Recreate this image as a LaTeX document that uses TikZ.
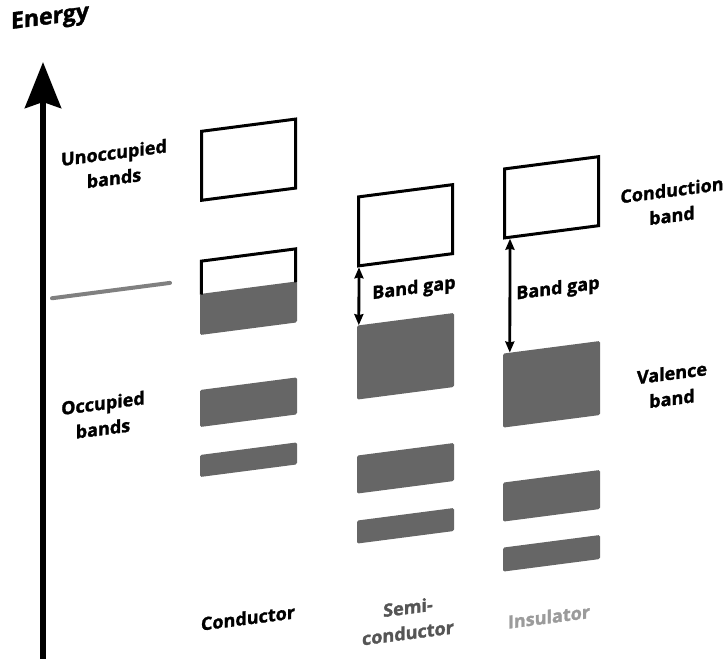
\documentclass[tikz,border=0pt]{standalone}
\usepackage{fontspec}
\setmainfont{Open Sans}[BoldFeatures={FakeBold=1.5}]
\usetikzlibrary{arrows.meta}

\definecolor{bandgray}{RGB}{102,102,102}
\definecolor{fermigray}{RGB}{128,128,128}
\definecolor{semigray}{RGB}{85,85,85}
\definecolor{insugray}{RGB}{155,155,155}

\begin{document}
\begin{tikzpicture}[
  x=1pt, y=-1pt,
  >=Stealth,
  band box/.style={
    draw,
    line width=3pt,
    minimum width=94pt,
    inner sep=0pt,
    transform shape
  },
  filled band/.style={
    fill=bandgray,
    rounded corners=1.5pt,
    minimum width=97pt,
    inner sep=0pt,
    transform shape
  },
  gap arrow/.style={
    <->,
    line width=2.8pt,
    >={Stealth[length=11pt, width=9pt, inset=1pt]}
  },
  label/.style={
    align=center,
    inner sep=0pt,
    font=\bfseries\fontsize{18}{25.5}\selectfont,
    transform shape
  }
]

\useasboundingbox (0,0) rectangle (724,659);

% energy axis
\coordinate (axis foot) at (43,660);
\coordinate (axis tip) at (43,62);
\draw[line width=6pt, -{Stealth[length=46pt, width=36pt, inset=6pt]}] (axis foot) -- (axis tip);

\begin{scope}[yslant=0.13]

\node[label, font=\bfseries\fontsize{23}{26}\selectfont] (energy) at (50,25) {Energy};
\node[label] (unocc) at (114,180) {Unoccupied\\bands};
\node[label] (occ) at (103,429) {Occupied\\bands};
\node[label] (condlabel) at (672,290) {Conduction\\band};
\node[label] (vallabel) at (672,473) {Valence\\band};

% Fermi level
\coordinate (fermi left) at (52,305);
\coordinate (fermi right) at (170,305);
\draw[fermigray, line width=4pt, line cap=round] (fermi left) -- (fermi right);

% conductor
\node[band box, minimum height=69pt] (c top) at (248.5,192) {};
\node[filled band, minimum height=41pt] (c fill) at (248.5,340.5) {};
\node[inner sep=0pt, minimum width=94pt, minimum height=33pt, transform shape] (c half) at (248.5,304) {};
\draw[line width=3pt] (c half.south west) -- (c half.north west) -- (c half.north east) -- (c half.south east);
\node[filled band, minimum height=37pt] (c occ1) at (248.5,434.5) {};
\node[filled band, minimum height=22pt] (c occ2) at (248.5,492) {};

% semiconductor
\node[band box, minimum height=69pt] (s cond) at (405.5,278) {};
\node[filled band, minimum height=74pt] (s val) at (405.5,409) {};
\node[filled band, minimum height=38pt] (s occ1) at (405.5,521) {};
\node[filled band, minimum height=23pt] (s occ2) at (405.5,578.5) {};
\draw[gap arrow] ([xshift=2pt]s cond.south west) -- node[label, right=12pt] {Band gap} ([xshift=2pt]s val.north west);

% insulator
\node[band box, minimum height=69pt] (i cond) at (551.5,269) {};
\node[filled band, minimum height=74pt] (i val) at (551.5,456) {};
\node[filled band, minimum height=39pt] (i occ1) at (551.5,567.5) {};
\node[filled band, minimum height=24pt] (i occ2) at (551.5,625) {};
\draw[gap arrow] ([xshift=7pt]i cond.south west) -- node[label, right=5pt] {Band gap} ([xshift=7pt]i val.north west);

% material names
\node[label] (conductor) at (248,650) {Conductor};
\node[label, text=semigray] (semi) at (408,673) {Semi-\\conductor};
\node[label, text=insugray] (insulator) at (549,688) {Insulator};

\end{scope}

\end{tikzpicture}
\end{document}
